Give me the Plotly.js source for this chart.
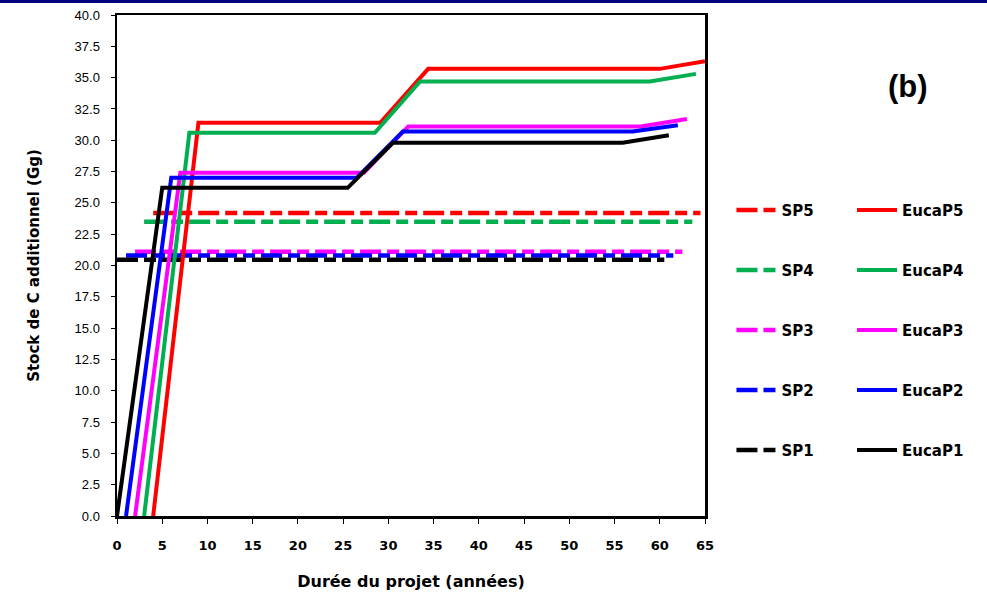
<!DOCTYPE html>
<html>
<head>
<meta charset="utf-8">
<script src="https://cdn.plot.ly/plotly-3.0.1.min.js"></script>
<style>html,body{margin:0;padding:0;background:#fff}#chart{width:987px;height:600px}</style>
</head>
<body>
<div id="chart"></div>
<script>
// ---- data ----
const seriesNames = ["SP5","SP4","SP3","SP2","SP1"];
const eucaNames   = ["EucaP5","EucaP4","EucaP3","EucaP2","EucaP1"];
const colors      = ["#FF0000","#00B050","#FF00FF","#0000FF","#000000"];

// SP (baseline) dashed horizontal series
const sp5X = [4, 64.5],   sp5Y = [24.2, 24.2];
const sp4X = [3, 63.6],   sp4Y = [23.5, 23.5];
const sp3X = [2, 62.5],   sp3Y = [21.1, 21.1];
const sp2X = [1, 61.5],   sp2Y = [20.8, 20.8];
const sp1X = [0, 60.5],   sp1Y = [20.45, 20.45];

// EucaP series
const euca5X = [4, 9, 29.1, 34.4, 60, 65];     const euca5Y = [0, 31.4, 31.4, 35.7, 35.7, 36.3];
const euca4X = [3, 8, 28.5, 33.5, 58.9, 64];   const euca4Y = [0, 30.6, 30.6, 34.7, 34.7, 35.3];
const euca3X = [2, 7, 27.3, 32.2, 57.9, 63];   const euca3Y = [0, 27.4, 27.4, 31.1, 31.1, 31.7];
const euca2X = [1, 6, 26.5, 31.6, 57, 62];     const euca2Y = [0, 27.0, 27.0, 30.7, 30.7, 31.2];
const euca1X = [0, 5, 25.5, 30.5, 55.9, 61];   const euca1Y = [0, 26.2, 26.2, 29.8, 29.8, 30.4];

const xTicks = [0,5,10,15,20,25,30,35,40,45,50,55,60,65];
const yTicks = [0,2.5,5,7.5,10,12.5,15,17.5,20,22.5,25,27.5,30,32.5,35,37.5,40];

const spX = [sp5X, sp4X, sp3X, sp2X, sp1X];
const spY = [sp5Y, sp4Y, sp3Y, sp2Y, sp1Y];
const eX  = [euca5X, euca4X, euca3X, euca2X, euca1X];
const eY  = [euca5Y, euca4Y, euca3Y, euca2Y, euca1Y];

const traces = [];
for (let i = 0; i < 5; i++) {
  traces.push({
    x: spX[i], y: spY[i], type: "scatter", mode: "lines", name: seriesNames[i],
    line: {color: colors[i], width: 4.5, dash: "21px,6px,12px,6px"},
    legend: "legend", legendgroup: "sp" + i, hoverinfo: "skip"
  });
}
for (let i = 0; i < 5; i++) {
  traces.push({
    x: eX[i], y: eY[i], type: "scatter", mode: "lines", name: eucaNames[i],
    line: {color: colors[i], width: 4},
    legend: "legend2", legendgroup: "e" + i, hoverinfo: "skip"
  });
}

const legendFont = {family: "DejaVu Sans", size: 15, color: "#000", weight: "bold"};
const layout = {
  width: 987, height: 600,
  margin: {l: 117, r: 282, t: 15, b: 84},
  paper_bgcolor: "#fff", plot_bgcolor: "#fff",
  showlegend: true,
  xaxis: {
    range: [0, 65], tickvals: xTicks, ticktext: xTicks.map(String),
    showgrid: false, zeroline: false, showline: true, linecolor: "#000", linewidth: 2.5,
    mirror: true, ticks: "outside", ticklen: 5, tickcolor: "#000", tickwidth: 1,
    ticklabelstandoff: 11,
    tickfont: {family: "DejaVu Sans", size: 13, color: "#000", weight: "bold"},
    title: {text: "Durée du projet (années)", standoff: 24,
            font: {family: "DejaVu Sans", size: 16, color: "#000", weight: "bold"}},
    fixedrange: true
  },
  yaxis: {
    range: [0, 40], tickvals: yTicks, ticktext: yTicks.map(v => v.toFixed(1)),
    showgrid: false, zeroline: false, showline: true, linecolor: "#000", linewidth: 2.5,
    mirror: true, ticks: "outside", ticklen: 4, tickcolor: "#000", tickwidth: 1,
    ticklabelstandoff: 8,
    tickfont: {family: "Liberation Sans Narrow, Liberation Sans", size: 13, color: "#000"},
    title: {text: "Stock de C additionnel (Gg)", standoff: 32,
            font: {family: "DejaVu Sans", size: 15, color: "#000", weight: "bold"}},
    fixedrange: true
  },
  legend: {
    x: 1.045, y: 0.643, xanchor: "left", yanchor: "top",
    font: legendFont, bgcolor: "rgba(0,0,0,0)", borderwidth: 0,
    tracegroupgap: 37.5, itemwidth: 40, traceorder: "grouped"
  },
  legend2: {
    x: 1.25, y: 0.643, xanchor: "left", yanchor: "top",
    font: legendFont, bgcolor: "rgba(0,0,0,0)", borderwidth: 0,
    tracegroupgap: 37.5, itemwidth: 40, traceorder: "grouped"
  },
  annotations: [{
    text: "(b)", xref: "paper", yref: "paper", x: 1.345, y: 0.858,
    xanchor: "center", yanchor: "middle", showarrow: false,
    font: {family: "Liberation Sans", size: 31, color: "#000", weight: "bold"}
  }],
  shapes: [{
    type: "line", xref: "paper", yref: "paper",
    x0: -0.2, x1: 1.48, y0: 1.027, y1: 1.027,
    line: {color: "#000080", width: 3}
  }]
};

Plotly.newPlot("chart", traces, layout, {displayModeBar: false, staticPlot: true});
</script>
</body>
</html>
